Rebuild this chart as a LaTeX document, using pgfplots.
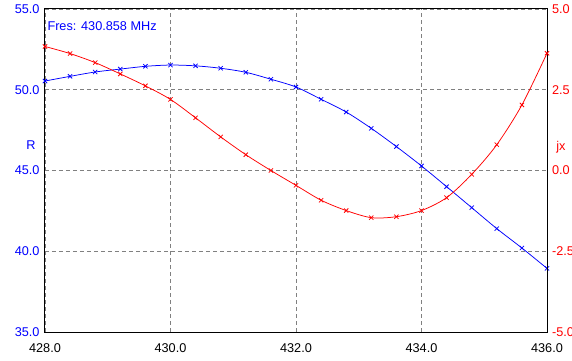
\documentclass[border=0pt]{standalone}
\usepackage{pgfplots}
\usepackage{pgfplotstable}
\pgfplotsset{compat=1.18}
\usepackage{fontspec}
\setmainfont{Liberation Sans}

\pgfplotstableread{
f R
428.0 50.54
428.4 50.83
428.8 51.10
429.2 51.28
429.6 51.45
430.0 51.53
430.4 51.48
430.8 51.33
431.2 51.08
431.6 50.65
432.0 50.17
432.4 49.41
432.8 48.62
433.2 47.61
433.6 46.48
434.0 45.28
434.4 44.00
434.8 42.70
435.2 41.40
435.6 40.20
436.0 38.94
}\Rdata

\pgfplotstableread{
f X
428.0 3.84
428.4 3.62
428.8 3.34
429.2 2.99
429.6 2.62
430.0 2.20
430.4 1.63
430.8 1.04
431.2 0.49
431.6 0.00
432.0 -0.46
432.4 -0.92
432.8 -1.24
433.2 -1.46
433.6 -1.43
434.0 -1.24
434.4 -0.84
434.8 -0.12
435.2 0.80
435.6 2.03
436.0 3.63
}\Xdata

\begin{document}
\begin{tikzpicture}[font=\fontsize{12.7bp}{15bp}\selectfont]
\begin{axis}[
  scale only axis, width=502bp, height=323bp,
  xmin=428, xmax=436, ymin=35, ymax=55,
  xtick={428,430,432,434,436}, ytick={35,40,45,50,55},
  grid=major,
  major grid style={gray, line width=0.75bp, dash pattern=on 4bp off 3bp},
  axis line style={black, line width=1bp},
  tick style={draw=none},
  /pgf/number format/.cd, fixed, fixed zerofill, precision=1, assume math mode=true, 1000 sep={},
  /pgfplots/.cd,
  xticklabel style={yshift=-8bp, black},
  yticklabel style={blue, xshift=-2bp},
  ylabel={R},
  every axis y label/.style={at={(rel axis cs:0,0.579)}, xshift=-14bp, anchor=center, blue},
]
\addplot[blue, line width=0.75bp, smooth, mark=x, mark size=3bp, mark options={solid}] table[x=f, y=R] {\Rdata};
\node[blue, anchor=base west, inner sep=0pt] at (axis description cs:0.0046,0.9334) {Fres: 430.858 MHz};
\end{axis}
\begin{axis}[
  scale only axis, width=502bp, height=323bp,
  xmin=428, xmax=436, ymin=-5, ymax=5,
  axis x line=none, axis y line*=right,
  ytick={-5,-2.5,0,2.5,5},
  axis line style={black, line width=1bp},
  tick style={draw=none},
  /pgf/number format/.cd, fixed, fixed zerofill, precision=1, assume math mode=true,
  /pgfplots/.cd,
  yticklabel style={red, xshift=1.5bp},
  ylabel={jx},
  every axis y label/.style={at={(rel axis cs:1,0.573)}, xshift=14bp, anchor=center, red},
]
\addplot[red, line width=0.75bp, smooth, mark=x, mark size=3bp, mark options={solid}] table[x=f, y=X] {\Xdata};
\end{axis}
\pgfresetboundingbox
\useasboundingbox (-45bp,-29bp) rectangle (527bp,332bp);
\end{tikzpicture}
\end{document}
